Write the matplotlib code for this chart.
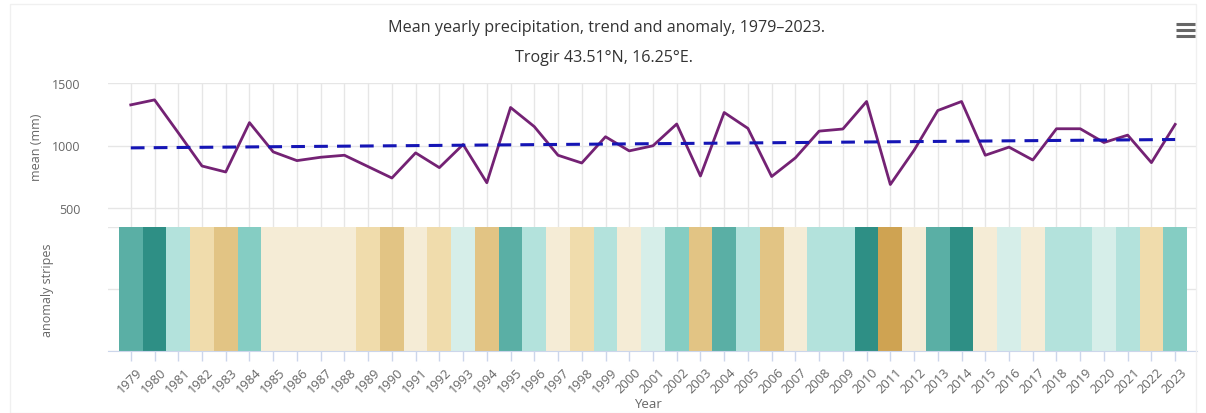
import matplotlib
matplotlib.use("Agg")
import matplotlib.pyplot as plt
import matplotlib.transforms as mtransforms
from matplotlib.lines import Line2D
from matplotlib.patches import Rectangle

# DATA
years = list(range(1979, 2024))
precip = [1325, 1365, 1102, 836, 788, 1183, 949, 879, 906, 922,
          831, 740, 941, 823, 1008, 702, 1304, 1151, 922, 860,
          1070, 957, 998, 1172, 756, 1264, 1137, 752, 901, 1115,
          1132, 1352, 688, 962, 1280, 1352, 922, 987, 884, 1134,
          1134, 1024, 1083, 863, 1169]
trend_years = [1979, 2023]
trend_vals = [981, 1048]
# anomaly class per year (positive = wetter, negative = drier)
anomaly_class = [4, 5, 2, -1, -2, 3, 0, 0, 0, 0,
                 -1, -2, 0, -1, 1, -2, 4, 2, 0, -1,
                 2, 0, 1, 3, -2, 4, 2, -2, 0, 2,
                 2, 5, -3, 0, 4, 5, 0, 1, 0, 2,
                 2, 1, 2, -1, 3]
yticks_top = [500, 1000, 1500]

palette = {5: '#2e8f85', 4: '#5aafa5', 3: '#85cdc3', 2: '#b3e2dc',
           1: '#d6eee9', 0: '#f5ecd6', -1: '#f0dcac', -2: '#e2c484',
           -3: '#cfa352'}

W, H = 1206, 414
fig = plt.figure(figsize=(W / 100, H / 100), dpi=100, facecolor='white')

tick_font = ['Open Sans', 'DejaVu Sans']
title_font = ['Liberation Sans Narrow', 'Open Sans', 'DejaVu Sans']
grey = '#666666'
gridc = '#e6e6e6'

x0, x1 = 108, 1197
xlim = (1978.04, 2023.92)


def fpos(left, top, right, bottom):
    return [left / W, 1 - bottom / H, (right - left) / W, (bottom - top) / H]


# top panel: mean precipitation + trend
ax = fig.add_axes(fpos(x0, 84, x1, 228))
ax.plot(years, precip, color='#742274', lw=2, zorder=3)
ax.plot(trend_years, trend_vals, color='#1515b5', lw=2.2,
        dashes=(4.5, 3), zorder=4)
ax.set_xlim(*xlim)
ax.set_ylim(348, 1500)
ax.set_yticks(yticks_top)
ax.set_xticks(years)
ax.grid(True, color=gridc, lw=1, zorder=0)
ax.tick_params(axis='x', length=0, labelbottom=False)
ax.tick_params(axis='y', length=0, pad=20, labelsize=9, labelcolor=grey)
for lab in ax.get_yticklabels():
    lab.set_family(tick_font)
for s in ax.spines.values():
    s.set_visible(False)

# bottom panel: anomaly stripes
ax2 = fig.add_axes(fpos(x0, 228, x1, 352))
ax2.bar(years, [1] * len(years), width=1.0, bottom=0,
        color=[palette[c] for c in anomaly_class], zorder=2, linewidth=0)
ax2.set_xlim(*xlim)
ax2.set_ylim(0, 1)
ax2.set_yticks([0, 0.5, 1])
ax2.yaxis.grid(True, color=gridc, lw=1, zorder=0)
ax2.set_axisbelow(True)
ax2.tick_params(axis='y', length=0, labelleft=False)
ax2.set_xticks(years)
ax2.set_xticklabels([str(y) for y in years], rotation=45, ha='right',
                    va='top', rotation_mode='anchor', fontsize=9.3,
                    color=grey, family=tick_font)
ax2.tick_params(axis='x', direction='out', length=7, width=1,
                color='#ccd6eb', pad=3)
shift = mtransforms.ScaledTranslation(5 / 100, 0, fig.dpi_scale_trans)
for lab in ax2.get_xticklabels():
    lab.set_transform(lab.get_transform() + shift)
for k in ['top', 'left', 'right']:
    ax2.spines[k].set_visible(False)
ax2.spines['bottom'].set_color('#ccd6eb')

# axis titles
fig.text(36 / W, 1 - 147 / H, 'mean (mm)', rotation=90, ha='center',
         va='center', fontsize=9, color=grey, family=tick_font)
fig.text(48 / W, 1 - 290 / H, 'anomaly stripes', rotation=90, ha='center',
         va='center', fontsize=9, color=grey, family=tick_font)
fig.text(648 / W, 1 - 405 / H, 'Year', ha='center', va='center',
         fontsize=9.5, color=grey, family=tick_font)

# titles
fig.text(607 / W, 1 - 28 / H,
         'Mean yearly precipitation, trend and anomaly, 1979\u20132023.',
         ha='center', va='center', fontsize=11.6, color='#333333',
         family=title_font)
fig.text(604 / W, 1 - 58 / H, 'Trogir 43.51\u00b0N, 16.25\u00b0E.',
         ha='center', va='center', fontsize=11.6, color='#333333',
         family=title_font)

# menu icon
for yy in (25, 31, 37):
    fig.add_artist(Line2D([1176 / W, 1195 / W], [1 - yy / H, 1 - yy / H],
                          color='#666666', lw=2.2, solid_capstyle='butt'))

# faint container border
fig.add_artist(Rectangle((10 / W, 0), 1 - 20 / W, 1 - 5 / H, fill=False,
                         edgecolor='#f0f0f0', lw=1))

fig.savefig('out.png', dpi=100, facecolor='white')
